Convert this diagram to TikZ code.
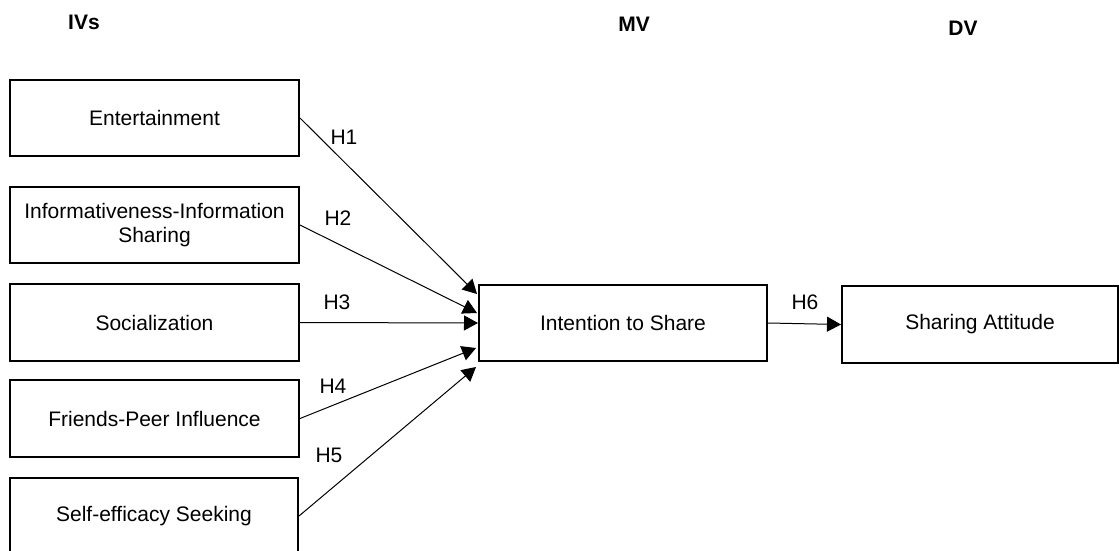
\documentclass[tikz,border=0pt]{standalone}
\usepackage{fontspec}
\setmainfont{Liberation Sans}
\usetikzlibrary{arrows.meta}
\begin{document}
\begin{tikzpicture}[x=0.5pt,y=-0.5pt,
  box/.style={draw=black,line width=1pt,inner sep=0pt,align=center,
    font=\fontsize{10.5pt}{12pt}\selectfont},
  head/.style={font=\fontsize{10.5pt}{12pt}\selectfont\bfseries,inner sep=0pt},
  hl/.style={font=\fontsize{10.5pt}{12pt}\selectfont,inner sep=0pt},
  link/.style={line width=0.5pt,-{Triangle[length=7pt,width=7.5pt]}}]
\useasboundingbox (0,0) rectangle (1119,551);
\node[head] (ivs) at (84,22) {IVs};
\node[head] (mv) at (634,24) {MV};
\node[head] (dv) at (963,28) {DV};
\node[box,minimum width=144.5pt,minimum height=38pt] (e1) at (154.5,118) {Entertainment};
\node[box,minimum width=144.5pt,minimum height=38pt] (e2) at (154.5,225) {Informativeness-Information\\Sharing};
\node[box,minimum width=144.5pt,minimum height=38.5pt] (e3) at (154.5,322.5) {Socialization};
\node[box,minimum width=144.5pt,minimum height=38.5pt] (e4) at (154.5,418.5) {Friends-Peer Influence};
\node[box,minimum width=144pt,minimum height=38pt] (e5) at (154,516) {Self-efficacy Seeking};
\node[box,minimum width=144pt,minimum height=38pt] (it) at (623,323) {Intention to Share};
\node[box,minimum width=138pt,minimum height=38.5pt] (sa) at (980,324.5) {Sharing Attitude};
\coordinate (t1) at (477,294);
\coordinate (t2) at (477,313);
\coordinate (t3) at (478,323);
\coordinate (t4) at (476,348);
\coordinate (t5) at (476,367);
\draw[link] (e1.east) -- (t1);
\draw[link] (e2.east) -- (t2);
\draw[link] (e3.east) -- (t3);
\draw[link] (e4.east) -- (t4);
\draw[link] (e5.east) -- (t5);
\draw[link] (it.east) -- (sa.west);
\node[hl] (h1) at (344,137) {H1};
\node[hl] (h2) at (338,218) {H2};
\node[hl] (h3) at (337,302) {H3};
\node[hl] (h4) at (333,386) {H4};
\node[hl] (h5) at (329,455) {H5};
\node[hl] (h6) at (805,302) {H6};
\end{tikzpicture}
\end{document}
